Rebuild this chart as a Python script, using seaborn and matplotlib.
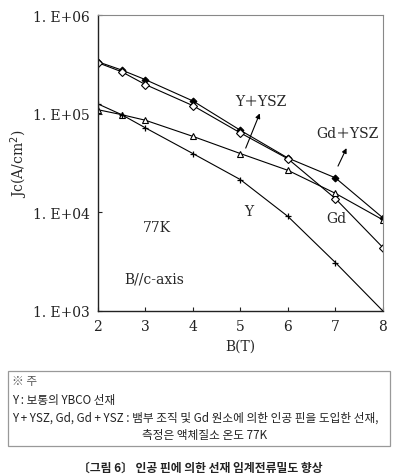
import matplotlib
matplotlib.use("Agg")
import matplotlib.pyplot as plt
import seaborn as sns
import pandas as pd
import numpy as np

# magnetic field B (T)
field = [2, 2.5, 3, 4, 5, 6, 7, 8]

# Jc (A/cm^2)
jc_gd_ysz = [3.37e5, 2.78e5, 2.22e5, 1.35e5, 6.8e4, 3.56e4, 2.24e4, 8.8e3]
jc_gd = [3.30e5, 2.67e5, 1.98e5, 1.21e5, 6.4e4, 3.50e4, 1.38e4, 4.4e3]
jc_y_ysz = [1.10e5, 9.8e4, 8.6e4, 5.9e4, 3.95e4, 2.67e4, 1.56e4, 8.4e3]
jc_y = [1.26e5, 9.8e4, 7.2e4, 3.95e4, 2.15e4, 9.1e3, 3.1e3, 1.0e3]

ytick_vals = [1e3, 1e4, 1e5, 1e6]
ytick_labels = ["1. E+03", "1. E+04", "1. E+05", "1. E+06"]
xtick_vals = [2, 3, 4, 5, 6, 7, 8]

note_lines = [
    "※ 주",
    "Y : 보통의 YBCO 선재",
    "Y + YSZ, Gd, Gd + YSZ : 뱀부 조직 및 Gd 원소에 의한 인공 핀을 도입한 선재,",
    "측정은 액체질소 온도 77K",
]
caption = "〔그림 6〕 인공 핀에 의한 선재 임계전류밀도 향상"

sns.set_style("white")
plt.rcParams["font.family"] = ["Noto Sans CJK KR", "DejaVu Sans"]

fig = plt.figure(figsize=(3.98, 4.77), dpi=100)
ax = fig.add_axes([0.246, 0.346, 0.716, 0.620])

serif = ["DejaVu Serif", "Noto Sans CJK KR"]

sns.lineplot(x=field, y=jc_gd_ysz, ax=ax, color="black", lw=0.8,
             marker="D", markersize=3.5, markerfacecolor="black",
             markeredgecolor="black")
sns.lineplot(x=field, y=jc_gd, ax=ax, color="black", lw=0.8,
             marker="D", markersize=4, markerfacecolor="white",
             markeredgecolor="black", markeredgewidth=0.8)
sns.lineplot(x=field, y=jc_y_ysz, ax=ax, color="black", lw=0.8,
             marker="^", markersize=5, markerfacecolor="white",
             markeredgecolor="black", markeredgewidth=0.8)
sns.lineplot(x=field, y=jc_y, ax=ax, color="black", lw=0.8,
             marker="+", markersize=5, markeredgewidth=0.9,
             markeredgecolor="black")

ax.set_yscale("log")
ax.set_ylim(1e3, 1e6)
ax.set_xlim(2, 8)
ax.set_yticks(ytick_vals)
ax.set_yticklabels(ytick_labels, family=serif, fontsize=10)
ax.minorticks_off()
ax.set_xticks(xtick_vals)
ax.set_xticklabels([str(v) for v in xtick_vals], family=serif, fontsize=10)
ax.tick_params(direction="in", length=3, width=0.8, colors="#222222",
               left=True, bottom=True, pad=6)

for side in ["left", "bottom"]:
    ax.spines[side].set_color("#222222")
    ax.spines[side].set_linewidth(1.0)
for side in ["top", "right"]:
    ax.spines[side].set_color("#888888")
    ax.spines[side].set_linewidth(0.8)

ax.set_xlabel("B(T)", family=serif, fontsize=10, labelpad=4)
ax.set_ylabel("Jc(A/cm$^2$)", family=serif, fontsize=10, labelpad=2)

# labels and arrows inside the plot
ax.text(5.43, 10**5.13, "Y＋YSZ", family=serif, fontsize=10, ha="center", va="center")
ax.annotate("", xy=(5.43, 10**5.03), xytext=(5.09, 10**4.626),
            arrowprops=dict(arrowstyle="-|>", color="black", lw=0.8,
                            mutation_scale=7))
ax.text(7.25, 10**4.81, "Gd＋YSZ", family=serif, fontsize=10, ha="center", va="center")
ax.annotate("", xy=(7.26, 10**4.677), xytext=(7.03, 10**4.444),
            arrowprops=dict(arrowstyle="-|>", color="black", lw=0.8,
                            mutation_scale=7))
ax.text(5.18, 10**4.01, "Y", family=serif, fontsize=10, ha="center", va="center")
ax.text(7.03, 10**3.94, "Gd", family=serif, fontsize=10, ha="center", va="center")
ax.text(3.24, 10**3.85, "77K", family=serif, fontsize=10, ha="center", va="center")
ax.text(3.18, 10**3.33, "B//c-axis", family=serif, fontsize=10, ha="center", va="center")

# note box under the chart
box = plt.Rectangle((8 / 398, 1 - 447 / 477), 382 / 398, 75 / 477,
                    transform=fig.transFigure, fill=False,
                    edgecolor="#999999", lw=0.9)
fig.patches.append(box)
fig.text(12 / 398, 1 - 382 / 477, note_lines[0], fontsize=8.4, color="#555555", va="center")
fig.text(12 / 398, 1 - 401 / 477, note_lines[1], fontsize=8.4, color="#222222", va="center")
fig.text(12 / 398, 1 - 418 / 477, note_lines[2], fontsize=8.4, color="#222222", va="center")
fig.text(205 / 398, 1 - 436 / 477, note_lines[3], fontsize=8.4, color="#222222",
         va="center", ha="center")
fig.text(200 / 398, 1 - 468 / 477, caption, fontsize=8.5, fontweight="bold",
         color="#222222", va="center", ha="center")

fig.savefig("out.png", dpi=100)
